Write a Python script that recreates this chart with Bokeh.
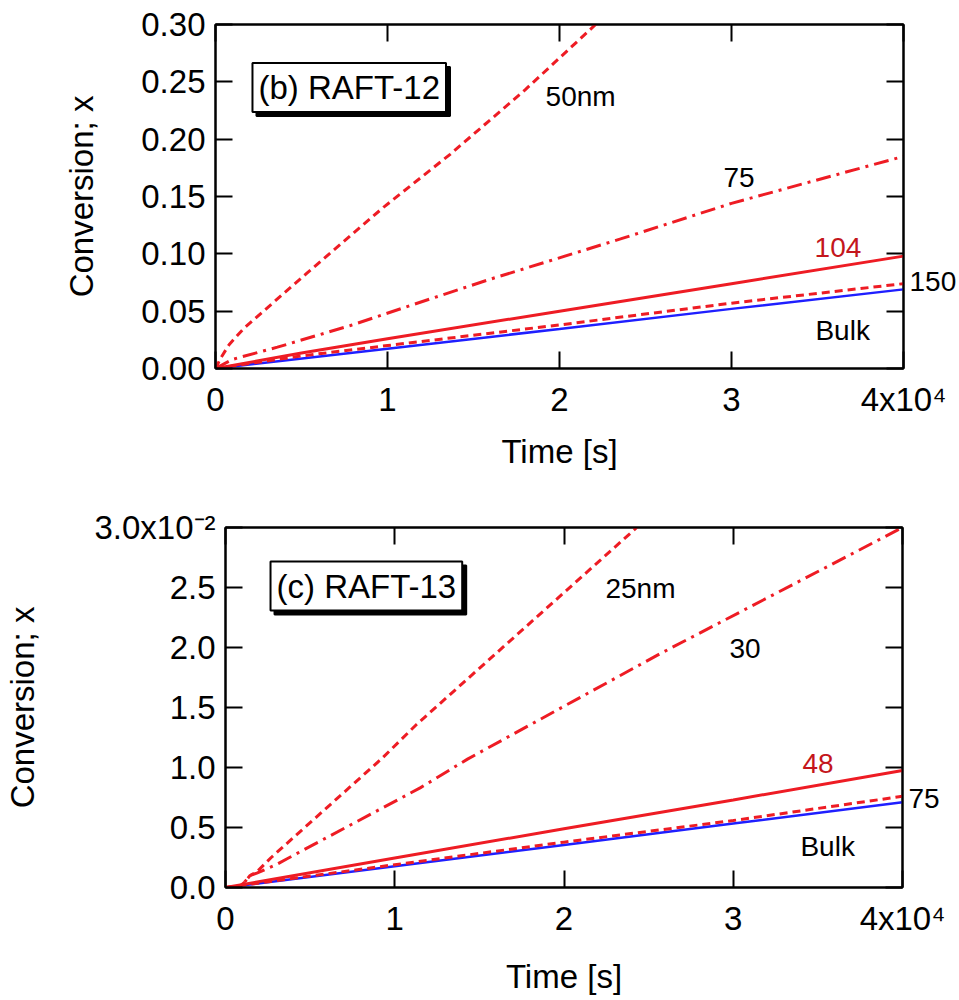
from bokeh.plotting import figure
from bokeh.models import (Range1d, LinearAxis, FixedTicker, CustomJSTickFormatter,
                          NumeralTickFormatter, Label)
from bokeh.embed import file_html
from bokeh.resources import INLINE

# ---------------- data: panel (b) RAFT-12 (time in s, conversion) ----------------
b_t_50 = [0, 300, 800, 1650, 5300, 9800, 13660, 18000, 22100]
b_x_50 = [0, 0.009, 0.021, 0.035, 0.083, 0.141, 0.187, 0.243, 0.300]
b_t_75 = [0, 1000, 3600, 7850, 11340, 16000, 23550, 30000, 40000]
b_x_75 = [0, 0.008, 0.0186, 0.0375, 0.055, 0.078, 0.113, 0.144, 0.185]
b_t_104 = [0, 5000, 10000, 20000, 30000, 40000]
b_x_104 = [0, 0.0135, 0.026, 0.050, 0.074, 0.098]
b_t_150 = [0, 5000, 10000, 20000, 30000, 40000]
b_x_150 = [0, 0.011, 0.020, 0.038, 0.057, 0.074]
b_t_bulk = [0, 10000, 20000, 30000, 40000]
b_x_bulk = [0, 0.0172, 0.0345, 0.052, 0.069]

# ---------------- data: panel (c) RAFT-13 (time in s, conversion in 1e-2) ----------------
c_t_25 = [0, 800, 1100, 1450, 1850, 2700, 9200, 11300, 24300]
c_x_25 = [0, 0.005, 0.04, 0.10, 0.13, 0.25, 1.07, 1.36, 3.0]
c_t_30 = [0, 800, 1100, 1450, 1850, 3000, 3640, 11500, 14300, 25700, 40000]
c_x_30 = [0, 0.005, 0.04, 0.10, 0.12, 0.19, 0.24, 0.83, 1.07, 1.95, 3.0]
c_t_48 = [0, 10000, 20000, 30000, 40000]
c_x_48 = [0, 0.245, 0.49, 0.73, 0.975]
c_t_75 = [0, 10000, 20000, 30000, 40000]
c_x_75 = [0, 0.19, 0.378, 0.558, 0.76]
c_t_bulk = [0, 10000, 20000, 30000, 40000]
c_x_bulk = [0, 0.178, 0.355, 0.533, 0.71]

x_ticks = [0, 10000, 20000, 30000, 40000]
b_y_ticks = [0, 0.05, 0.10, 0.15, 0.20, 0.25, 0.30]
c_y_ticks = [0, 0.5, 1.0, 1.5, 2.0, 2.5, 3.0]

RED = "#ee1c24"
RED_TXT = "#c4161c"
BLUE = "#1f1fff"
FONT = "Liberation Sans"
TICK_SIZE = "33px"
ANN_SIZE = "28px"

x_fmt = CustomJSTickFormatter(code="""
const v = tick / 1e4;
return v >= 3.99 ? "4x10\u2074" : v.toFixed(0);
""")


def empty_fmt():
    return CustomJSTickFormatter(code="return '';")


def style_axis(ax):
    ax.axis_line_width = 2
    ax.axis_line_color = "black"
    ax.major_tick_line_width = 2
    ax.major_tick_line_color = "black"
    ax.major_tick_in = 17
    ax.major_tick_out = 0
    ax.minor_tick_line_color = None
    ax.major_label_text_font = FONT
    ax.major_label_text_font_size = TICK_SIZE
    ax.major_label_text_color = "black"
    ax.axis_label_text_font = FONT
    ax.axis_label_text_font_size = TICK_SIZE
    ax.axis_label_text_font_style = "normal"
    ax.axis_label_text_color = "black"


def make_fig(height, y_end, y_ticks, y_fmt, borders, ylabel_standoff, xlabel_standoff):
    left, right, top, bottom = borders
    p = figure(width=959, height=height, output_backend="svg", toolbar_location=None,
               x_range=Range1d(0, 40000), y_range=Range1d(0, y_end),
               min_border_left=left, min_border_right=right,
               min_border_top=top, min_border_bottom=bottom)
    p.xgrid.visible = False
    p.ygrid.visible = False
    p.outline_line_color = "black"
    p.outline_line_width = 2
    p.background_fill_color = "white"

    xa = p.xaxis[0]
    style_axis(xa)
    xa.ticker = FixedTicker(ticks=x_ticks)
    xa.formatter = x_fmt
    xa.axis_label = "Time [s]"
    xa.major_label_standoff = 12
    xa.axis_label_standoff = xlabel_standoff

    ya = p.yaxis[0]
    style_axis(ya)
    ya.ticker = FixedTicker(ticks=y_ticks)
    ya.formatter = y_fmt
    ya.axis_label = "Conversion; x"
    ya.major_label_standoff = 10
    ya.axis_label_standoff = ylabel_standoff

    ra = LinearAxis(ticker=FixedTicker(ticks=y_ticks), formatter=empty_fmt())
    style_axis(ra)
    ra.major_label_standoff = 0
    p.add_layout(ra, "right")
    ta = LinearAxis(ticker=FixedTicker(ticks=x_ticks), formatter=empty_fmt())
    style_axis(ta)
    ta.major_label_standoff = 0
    p.add_layout(ta, "above")
    return p


def add_text(p, x, y, text, color="black"):
    p.add_layout(Label(x=x, y=y, text=text, text_font=FONT, text_font_size=ANN_SIZE,
                       text_color=color, text_baseline="middle", text_align="left"))


def add_edge_text(p, y, text):
    # a label just outside the right edge of the frame (not clipped by the frame)
    ax = LinearAxis(ticker=FixedTicker(ticks=[y]),
                    formatter=CustomJSTickFormatter(code="return '%s';" % text))
    ax.axis_line_color = None
    ax.major_tick_line_color = None
    ax.minor_tick_line_color = None
    ax.major_tick_in = 0
    ax.major_tick_out = 0
    ax.major_label_standoff = 6
    ax.major_label_text_font = FONT
    ax.major_label_text_font_size = ANN_SIZE
    ax.major_label_text_color = "black"
    p.add_layout(ax, "right")


def add_box(p, x, y, text):
    shadow = Label(x=x, y=y, text=text, text_font=FONT, text_font_size=TICK_SIZE,
                   text_color="black", text_baseline="middle", text_align="left",
                   x_offset=4, y_offset=-4, padding=6,
                   background_fill_color="black", border_line_color="black",
                   border_line_width=2)
    front = Label(x=x, y=y, text=text, text_font=FONT, text_font_size=TICK_SIZE,
                  text_color="black", text_baseline="middle", text_align="left",
                  padding=6, background_fill_color="white", border_line_color="black",
                  border_line_width=2)
    p.add_layout(shadow)
    p.add_layout(front)


# ---------------- panel (b) ----------------
p1 = make_fig(480, 0.30, b_y_ticks, NumeralTickFormatter(format="0.00"),
              (215, 55, 24, 112), 38, 12)
p1.line(b_t_bulk, b_x_bulk, line_color=BLUE, line_width=2.5)
p1.line(b_t_150, b_x_150, line_color=RED, line_width=3, line_dash="8 5")
p1.line(b_t_104, b_x_104, line_color=RED, line_width=3)
p1.line(b_t_75, b_x_75, line_color=RED, line_width=3, line_dash="15 6 3 6")
p1.line(b_t_50, b_x_50, line_color=RED, line_width=3, line_dash="8 5")
add_text(p1, 19190, 0.237, "50nm")
add_text(p1, 29530, 0.167, "75")
add_text(p1, 34830, 0.1055, "104", color=RED_TXT)
add_text(p1, 34880, 0.033, "Bulk")
add_edge_text(p1, 0.0759, "150")
add_box(p1, 2150, 0.245, "(b) RAFT-12")

# ---------------- panel (c) ----------------
c_fmt = CustomJSTickFormatter(code="""
return tick >= 2.99 ? "3.0x10\u207b\u00b2" : tick.toFixed(1);
""")
p2 = make_fig(520, 3.0, c_y_ticks, c_fmt, (225, 57, 47, 113), 50, 18)
p2.line(c_t_bulk, c_x_bulk, line_color=BLUE, line_width=2.5)
p2.line(c_t_75, c_x_75, line_color=RED, line_width=3, line_dash="8 5")
p2.line(c_t_48, c_x_48, line_color=RED, line_width=3)
p2.line(c_t_30, c_x_30, line_color=RED, line_width=3, line_dash="15 6 3 6")
p2.line(c_t_25, c_x_25, line_color=RED, line_width=3, line_dash="8 5")
add_text(p2, 22450, 2.49, "25nm")
add_text(p2, 29780, 1.99, "30")
add_text(p2, 34090, 1.033, "48", color=RED_TXT)
add_text(p2, 33970, 0.342, "Bulk")
add_edge_text(p2, 0.742, "75")
add_box(p2, 2660, 2.5125, "(c) RAFT-13")

open("out.html", "w").write(file_html([p1, p2], INLINE))
